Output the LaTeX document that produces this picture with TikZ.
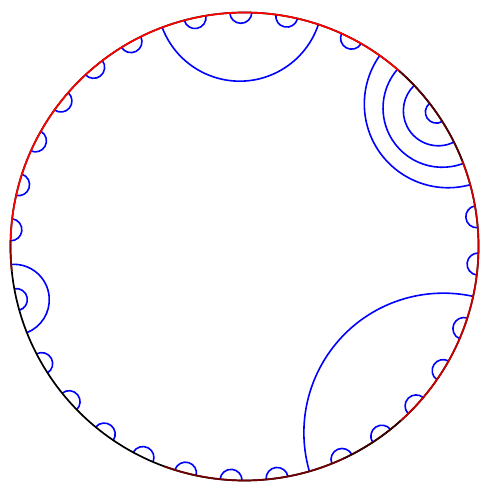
\documentclass[tikz,border=0pt]{standalone}
\begin{document}
\begin{tikzpicture}[x=1pt,y=1pt,
  geo/.style={blue, line width=1.6pt},
  rim/.style={line width=1.7pt}]
\useasboundingbox (0,0) rectangle (479,484);
\coordinate (C) at (244.5,237.5);
% geodesics (circles orthogonal to the rim): mid angle / half angle
\foreach \m/\h in {62.8/2.7, 79.6/2.7, 90.9/2.7, 102.2/2.7, 119.0/2.7, 130.1/2.7,
  141.6/2.7, 153.2/2.7, 164.7/2.7, 175.9/2.7, 193.1/2.7, 210.0/2.7, 221.5/2.7,
  233.2/2.7, 244.3/2.7, 255.4/2.7, 266.7/2.7, 278.0/2.7, 294.6/2.7, 305.9/2.7,
  317.1/2.7, 328.0/2.7, 339.5/2.7, 355.7/2.7, 7.3/2.7, 35.0/2.7,
  91.1/19.5, 193.0/8.6, 35.0/19.7, 35.0/14.2, 35.0/8.5, 316.9/30.8}{
  \pgfmathsetmacro\ga{\m-\h}
  \pgfmathsetmacro\gb{\m+\h}
  \pgfmathsetmacro\gr{234*tan(\h)}
  \draw[geo] (C) ++(\ga:234) arc[start angle=\ga+270, end angle=\gb+90, radius=\gr];
}
% rim
\draw[rim, black] (C) circle[radius=234];
\draw[rim, red] (C) ++(48.6:234) arc[start angle=48.6, end angle=178.5, radius=234];
\draw[rim, red!55!black] (C) ++(178.5:234) arc[start angle=178.5, end angle=186, radius=234];
\draw[rim, red!45!black] (C) ++(250:234) arc[start angle=250, end angle=295, radius=234];
\draw[rim, red!25!black] (C) ++(295:234) arc[start angle=295, end angle=312, radius=234];
\draw[rim, red!80!black] (C) ++(312:234) arc[start angle=312, end angle=381.4, radius=234];
\draw[rim, red!35!black] (C) ++(21.4:234) arc[start angle=21.4, end angle=48.6, radius=234];
\end{tikzpicture}
\end{document}
